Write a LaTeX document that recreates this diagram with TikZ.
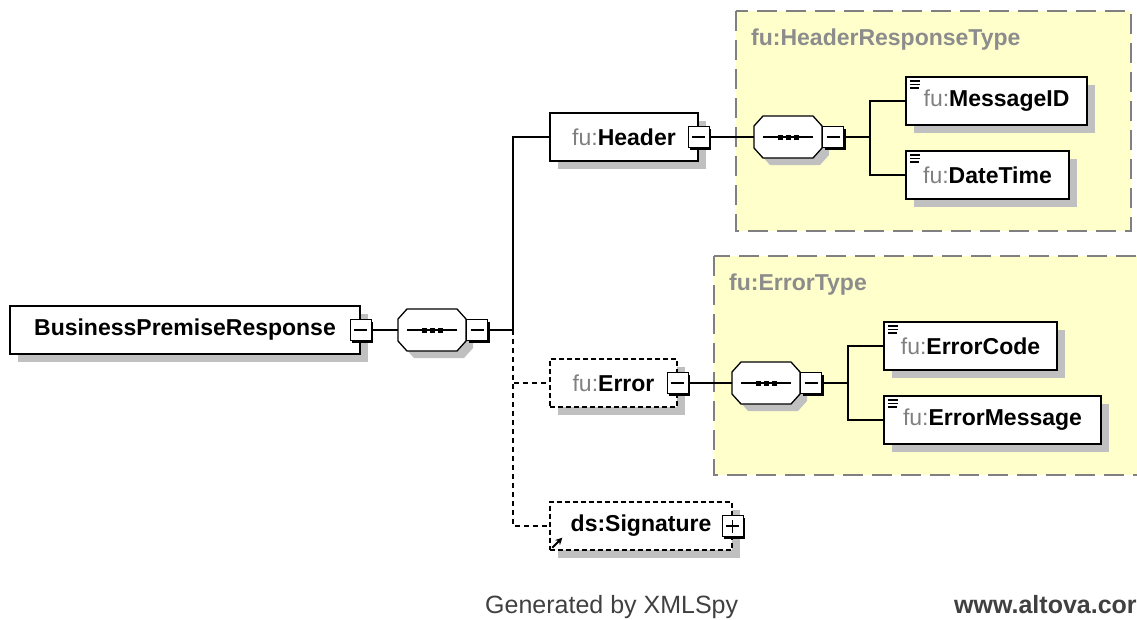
\documentclass[tikz,border=0pt]{standalone}
\usepackage{fontspec}
\setmainfont{Liberation Sans}
\usetikzlibrary{shadows,arrows.meta}
\definecolor{shadowgray}{RGB}{192,192,192}
\definecolor{prefixgray}{RGB}{128,128,128}
\definecolor{typeyellow}{RGB}{255,255,204}
\definecolor{typeborder}{RGB}{128,128,128}
\definecolor{titlegray}{RGB}{140,140,140}
\definecolor{footgray}{RGB}{64,64,64}
\newcommand{\pfx}[1]{{\mdseries\color{prefixgray}#1}}

\begin{document}
\begin{tikzpicture}[x=1pt, y=-1pt,
        elembox/.style={draw, fill=white, line width=1.3pt, minimum height=48pt, inner sep=0pt,
            font=\fontsize{23}{27}\selectfont\bfseries,
            drop shadow={shadow xshift=8pt, shadow yshift=-8pt, fill=shadowgray, opacity=1}},
        optbox/.style={elembox, dash pattern=on 5pt off 3pt},
        simplebox/.style={elembox, path picture={
            \foreach \dy/\len in {4/10,7.5/10,11/9}
                \draw[line width=1.2pt] ([shift={(4pt,-\dy pt)}]path picture bounding box.north west) -- ++(\len pt,0pt);}},
        minusbox/.style={draw, fill=white, line width=1pt, minimum size=21pt, inner sep=0pt,
            drop shadow={shadow xshift=2pt, shadow yshift=-2pt, fill=black, opacity=1},
            path picture={\draw[line width=1.4pt] ([xshift=4pt]path picture bounding box.west) -- ([xshift=-4pt]path picture bounding box.east);}},
        plusbox/.style={minusbox, path picture={\draw[line width=1.4pt]
            ([xshift=4pt]path picture bounding box.west) -- ([xshift=-4pt]path picture bounding box.east)
            ([yshift=4pt]path picture bounding box.south) -- ([yshift=-4pt]path picture bounding box.north);}},
        typebox/.style={draw=typeborder, fill=typeyellow, line width=1.3pt, dash pattern=on 20pt off 9pt},
        typetitle/.style={anchor=base west, inner sep=0pt, text=titlegray, font=\fontsize{23}{27}\selectfont\bfseries},
        foot/.style={anchor=base west, inner sep=0pt, text=footgray, font=\fontsize{25}{30}\selectfont},
        link/.style={line width=1.3pt},
        optlink/.style={link, dash pattern=on 5pt off 4pt},
        seqgroup/.pic={
            \draw[fill=white, line width=1.3pt, drop shadow={shadow xshift=7pt, shadow yshift=-7pt, fill=shadowgray, opacity=1}]
                (-34,-11) -- (-25,-21) -- (25,-21) -- (34,-11) -- (34,11) -- (25,21) -- (-25,21) -- (-34,11) -- cycle;
            \draw[line width=1.3pt] (-25,0) -- (25,0);
            \foreach \dx in {-8,0,8}
                \fill (\dx-2.5,-2.5) rectangle (\dx+2.5,2.5);
            \coordinate (-in) at (-34,0);
            \node[minusbox] (-tog) at (45,0) {};
        }]
        \useasboundingbox (0,0) rectangle (1137,619);
        \fill[white] (0,0) rectangle (1137,619);

        \draw[typebox] (736,11) rectangle (1131,231);
        \draw[typebox] (714,256) rectangle (1141,475);
        \node[typetitle] (hdrtype) at (751,45) {fu:HeaderResponseType};
        \node[typetitle] (errtype) at (729,290) {fu:ErrorType};

        \node[elembox, minimum width=350pt] (root) at (185,330) {BusinessPremiseResponse};
        \node[minusbox] (rootT) at (root.east) {};
        \pic (rseq) at (432,330) {seqgroup};
        \coordinate (trunk) at (513,330);

        \node[elembox, minimum width=148pt] (header) at (624,137) {\pfx{fu:}Header};
        \node[minusbox] (headerT) at (header.east) {};
        \pic (hseq) at (788,137) {seqgroup};
        \coordinate (hfork) at (870,137);
        \node[simplebox, minimum width=181pt] (msgid) at (996.5,101) {\pfx{fu:}MessageID};
        \node[simplebox, minimum width=163pt] (dtime) at (987.5,175) {\pfx{fu:}DateTime};

        \node[optbox, minimum width=127pt] (error) at (613.5,383) {\pfx{fu:}Error};
        \node[minusbox] (errorT) at (error.east) {};
        \pic (eseq) at (766,383) {seqgroup};
        \coordinate (efork) at (848,383);
        \node[simplebox, minimum width=173pt] (ecode) at (970.5,346) {\pfx{fu:}ErrorCode};
        \node[simplebox, minimum width=217pt] (emsg) at (992.5,420) {\pfx{fu:}ErrorMessage};

        \node[optbox, minimum width=182pt] (sig) at (641,526) {ds:Signature};
        \node[plusbox] (sigT) at (sig.east) {};
        \draw[-{Stealth[length=7pt, width=7pt]}, line width=2pt] ([shift={(3pt,3pt)}]sig.south west) -- ++(10,-10);

        \draw[link] (rootT.east) -- (rseq-in);
        \draw[link] (rseq-tog.east) -- (trunk);
        \draw[link] (trunk) |- (header.west);
        \draw[optlink] (trunk) |- (error.west);
        \draw[optlink] (trunk) |- (sig.west);
        \draw[link] (headerT.east) -- (hseq-in);
        \draw[link] (hseq-tog.east) -- (hfork);
        \draw[link] (hfork) |- (msgid.west);
        \draw[link] (hfork) |- (dtime.west);
        \draw[link] (errorT.east) -- (eseq-in);
        \draw[link] (eseq-tog.east) -- (efork);
        \draw[link] (efork) |- (ecode.west);
        \draw[link] (efork) |- (emsg.west);

        \node[foot] (gen) at (485,613) {Generated by XMLSpy};
        \node[foot, font=\fontsize{25}{30}\selectfont\bfseries] (site) at (954,613) {www.altova.cor};
\end{tikzpicture}
\end{document}
